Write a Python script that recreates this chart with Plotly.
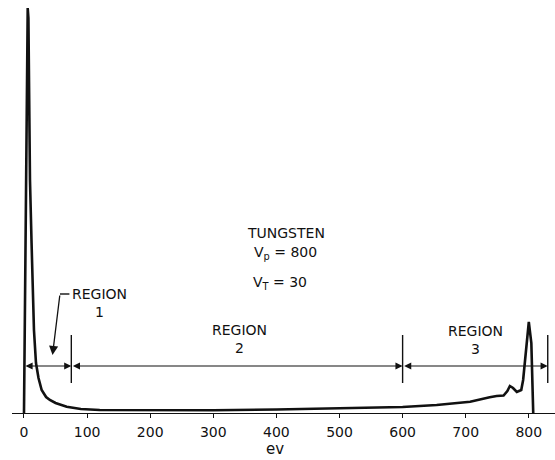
import plotly.graph_objects as go

# Energy distribution of secondary electrons from tungsten (arbitrary intensity units)
energy_ev = [0, 2.5, 5.0, 5.9, 7.0, 8.0, 9.5, 12, 15.8, 19, 23, 28, 35, 41, 50, 67.7,
             90, 120, 160, 200, 300, 400, 500, 600, 654, 707, 738, 749, 760, 766,
             770, 775, 781, 788, 791, 796, 800, 804, 806, 807]
intensity = [0, 195, 395, 405, 395, 330, 233, 170, 83, 50, 35, 23, 16, 13, 10, 6.3,
             4, 3, 2.8, 2.7, 2.8, 3.5, 4.5, 6, 8, 11.3, 15.7, 17, 17.5, 22,
             27, 25, 21, 23, 33, 70, 91, 70, 3, 0]

tick_values = [0, 100, 200, 300, 400, 500, 600, 700, 800]

# Region boundaries (eV) and label positions
region_bounds = [0, 75, 600, 830]
region_names = ["REGION<br>1", "REGION<br>2", "REGION<br>3"]
region_label_x = [120, 342, 715]
region_label_y = [110, 74, 73]

FONT = "DejaVu Sans"
INK = "#111111"

fig = go.Figure()
fig.add_trace(go.Scatter(x=energy_ev, y=intensity, mode="lines",
                         line=dict(color=INK, width=2.6), hoverinfo="skip"))

arrow_y = 47
bar_lo, bar_hi = 30, 78

# Dimension arrows spanning each region
for a, b in zip(region_bounds[:-1], region_bounds[1:]):
    fig.add_annotation(x=b, y=arrow_y, ax=a, ay=arrow_y, xref="x", yref="y",
                       axref="x", ayref="y", text="", showarrow=True,
                       arrowhead=2, startarrowhead=2, arrowside="end+start",
                       arrowsize=1.3, startarrowsize=1.3, arrowwidth=1.1,
                       arrowcolor=INK, standoff=0, startstandoff=0)

# Boundary bars
for b in region_bounds[1:]:
    fig.add_shape(type="line", x0=b, x1=b, y0=bar_lo, y1=bar_hi,
                  line=dict(color=INK, width=1.4))

# Region labels
for name, lx, ly in zip(region_names, region_label_x, region_label_y):
    fig.add_annotation(x=lx, y=ly, text=name, showarrow=False, xref="x", yref="y",
                       font=dict(family=FONT, size=14, color=INK), align="center",
                       yanchor="middle")

# Leader for region 1: short horizontal tick, then arrow down toward the curve
fig.add_shape(type="line", x0=57, x1=72, y0=119, y1=119, line=dict(color=INK, width=1.4))
fig.add_annotation(x=45.2, y=58, ax=57, ay=119, xref="x", yref="y", axref="x", ayref="y",
                   text="", showarrow=True, arrowhead=2, arrowsize=1.4, arrowwidth=1.3,
                   arrowcolor=INK, standoff=0)

# Material and voltages
fig.add_annotation(x=415, y=180, text="TUNGSTEN", showarrow=False,
                   font=dict(family=FONT, size=14, color=INK))
fig.add_annotation(x=415, y=160, text="V<sub>p</sub> = 800", showarrow=False,
                   font=dict(family=FONT, size=14, color=INK))
fig.add_annotation(x=406, y=130, text="V<sub>T</sub> = 30", showarrow=False,
                   font=dict(family=FONT, size=14, color=INK))

# Axis title
fig.add_annotation(x=398, y=0, yshift=-36, text="ev", showarrow=False, xref="x", yref="y",
                   yanchor="middle", borderpad=0,
                   font=dict(family=FONT, size=15, color=INK))

fig.update_xaxes(range=[-19.0, 841.5], tickvals=tick_values, ticks="outside",
                 ticklen=4, tickwidth=1.2, tickcolor=INK, showline=True, linecolor=INK,
                 linewidth=1.4, showgrid=False, zeroline=False,
                 tickfont=dict(family=FONT, size=14, color=INK), ticklabelstandoff=2)
fig.update_yaxes(range=[0, 413], visible=False, showgrid=False, zeroline=False)

fig.update_layout(width=555, height=460, margin=dict(l=12, r=0, t=0, b=47),
                  paper_bgcolor="white", plot_bgcolor="white", showlegend=False)

fig.write_html("out.html")
